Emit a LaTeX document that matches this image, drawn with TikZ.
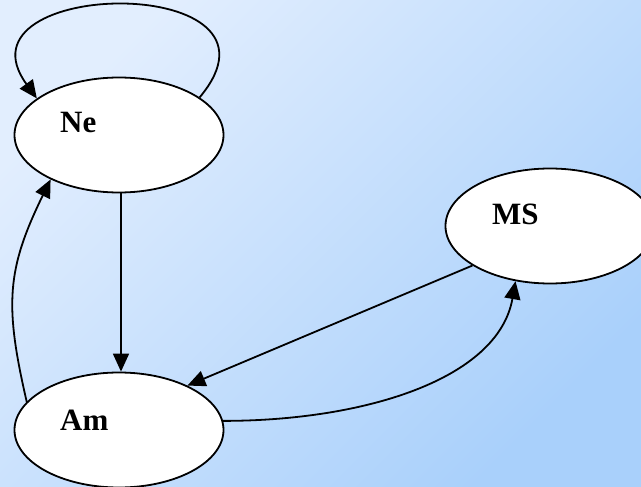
\documentclass[tikz,border=0pt]{standalone}
\usepackage{fontspec}
\setmainfont{Liberation Serif}
\usetikzlibrary{positioning,arrows.meta,shapes.geometric}

\definecolor{bgtop}{HTML}{E2EEFE}
\definecolor{bgbottom}{HTML}{A9D0FB}

\begin{document}
\begin{tikzpicture}[x=1pt,y=1pt,
        state/.style={ellipse,draw,fill=white,line width=1.8pt,inner sep=0pt,
            minimum width=209pt,minimum height=115pt},
        tag/.style={anchor=base west,inner sep=0pt,font=\fontsize{31}{36}\selectfont\bfseries},
        link/.style={line width=1.8pt,-{Triangle[length=18pt,width=16pt]}},
        on grid]
        \useasboundingbox (0,0) rectangle (641,-487);
        \shade[top color=bgtop,bottom color=bgbottom,shading angle=45] (0,0) rectangle (641,-487);

        % states
        \node[state] (ne) at (119,-135) {};
        \node[state, below=295pt of ne] (am) {};
        \node[state, below right=91pt and 431pt of ne] (ms) {};

        \node[tag] (nelabel) at ([xshift=-59pt,yshift=3pt]ne.center) {Ne};
        \node[tag] (amlabel) at ([xshift=-59pt]am.center) {Am};
        \node[tag] (mslabel) at ([xshift=-58pt,yshift=1pt]ms.center) {MS};

        % transitions
        \draw[link] (ne.25) .. controls +(50:164) and +(126:150) .. (ne.156);
        \draw[link] ([xshift=2pt]ne.south) -- ([xshift=2pt]am.north);
        \draw[link] (am.163) .. controls +(103:100) and +(-116:100) .. (ne.213);
        \draw[link] (ms.207) -- (am.33);
        \draw[link] (am.5) .. controls +(0:140) and +(-100:100) .. (ms.238);
\end{tikzpicture}
\end{document}
